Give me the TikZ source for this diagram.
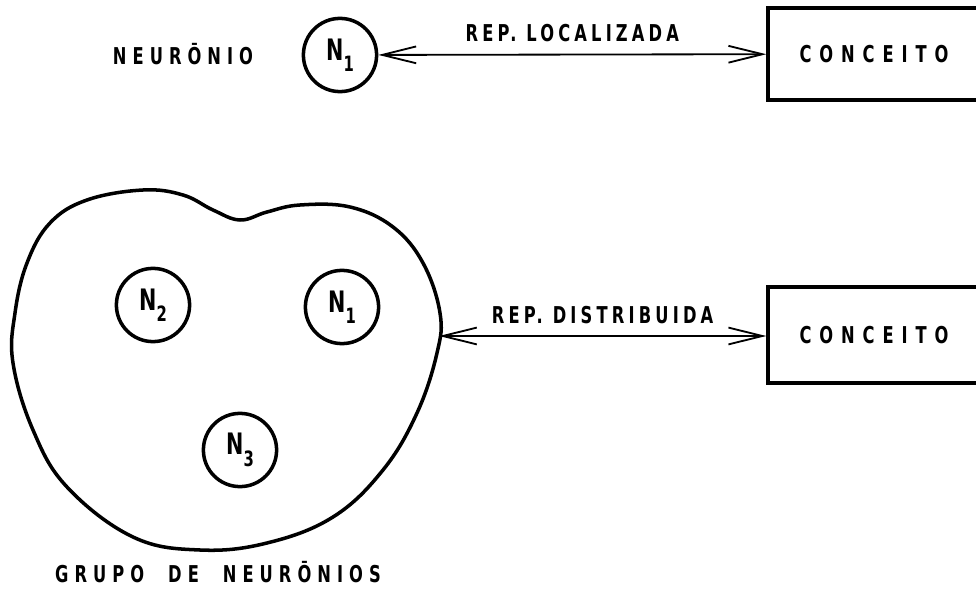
\documentclass[tikz,border=0pt]{standalone}
\usepackage{fontspec}
\setmainfont{DejaVu Sans Condensed}[FakeStretch=0.78]
\newfontfamily\lettering{DejaVu Sans Condensed}[FakeStretch=0.78, LetterSpace=34]
\newfontfamily\capfont{DejaVu Sans Condensed}[FakeStretch=0.78, LetterSpace=26]
\newfontfamily\labelfont{DejaVu Sans Condensed}[FakeStretch=0.78, LetterSpace=18]
\usetikzlibrary{arrows.meta, positioning, calc}

% neuron label with lowered index
\newcommand{\neur}[1]{N\raisebox{-8pt}{\fontsize{15}{15}\selectfont #1}}

\begin{document}
\begin{tikzpicture}[x=0.025cm, y=-0.025cm, >={Straight Barb[length=8.5mm, width=4.2mm]}]
  % Styles
  \tikzstyle{neuron} = [circle, draw, line width=2.5pt, minimum size=1.83cm, inner sep=0pt, font=\bfseries\fontsize{21}{21}\selectfont]
  \tikzstyle{concept} = [rectangle, draw, line width=2.4pt, minimum width=5.3cm, font=\lettering\bfseries\fontsize{16.5}{17}\selectfont]
  \tikzstyle{caption} = [inner sep=1pt, font=\capfont\bfseries\fontsize{16.5}{17}\selectfont]
  \tikzstyle{link} = [draw, <->, line width=1.3pt]
  \tikzstyle{linklabel} = [above=5pt, font=\labelfont\bfseries\fontsize{16.5}{17}\selectfont]

  \useasboundingbox (0,0) rectangle (976,591);

  % Local representation
  \node[neuron] (N1top) at (340,55) {\neur{1}};
  \node[caption] (neuronio) at (183,54) {NEUR\=ONIO};
  \node[concept, minimum height=2.3cm] (concA) at (874,54) {CONCEITO};
  \path[link] (N1top) -- node[linklabel] {REP. LOCALIZADA} (concA);

  % Group of neurons
  \draw[line width=2.5pt] plot[smooth cycle, tension=0.65] coordinates {
    (50,223) (87,200) (143,190) (183,195) (213,210) (240,220) (267,212)
    (300,205) (350,207) (393,227) (423,263) (440,313) (437,353) (417,413)
    (383,470) (333,517) (267,543) (200,550) (133,537) (67,487) (33,430)
    (13,363) (15,313) (27,263)};
  \coordinate (grpEdge) at (439,336);
  \node[neuron] (N2) at (153,305) {\neur{2}};
  \node[neuron] (N1) at (342,307) {\neur{1}};
  \node[neuron] (N3) at (240,450) {\neur{3}};
  \node[caption] (grupo) at (218,572) {GRUPO\hspace{6mm}DE\hspace{6mm}NEUR\=ONIOS};

  % Distributed representation
  \node[concept, minimum height=2.4cm] (concB) at (874,335) {CONCEITO};
  \path[link] (grpEdge) -- node[linklabel] {REP. DISTRIBUIDA} (concB.west |- grpEdge);

\end{tikzpicture}
\end{document}
